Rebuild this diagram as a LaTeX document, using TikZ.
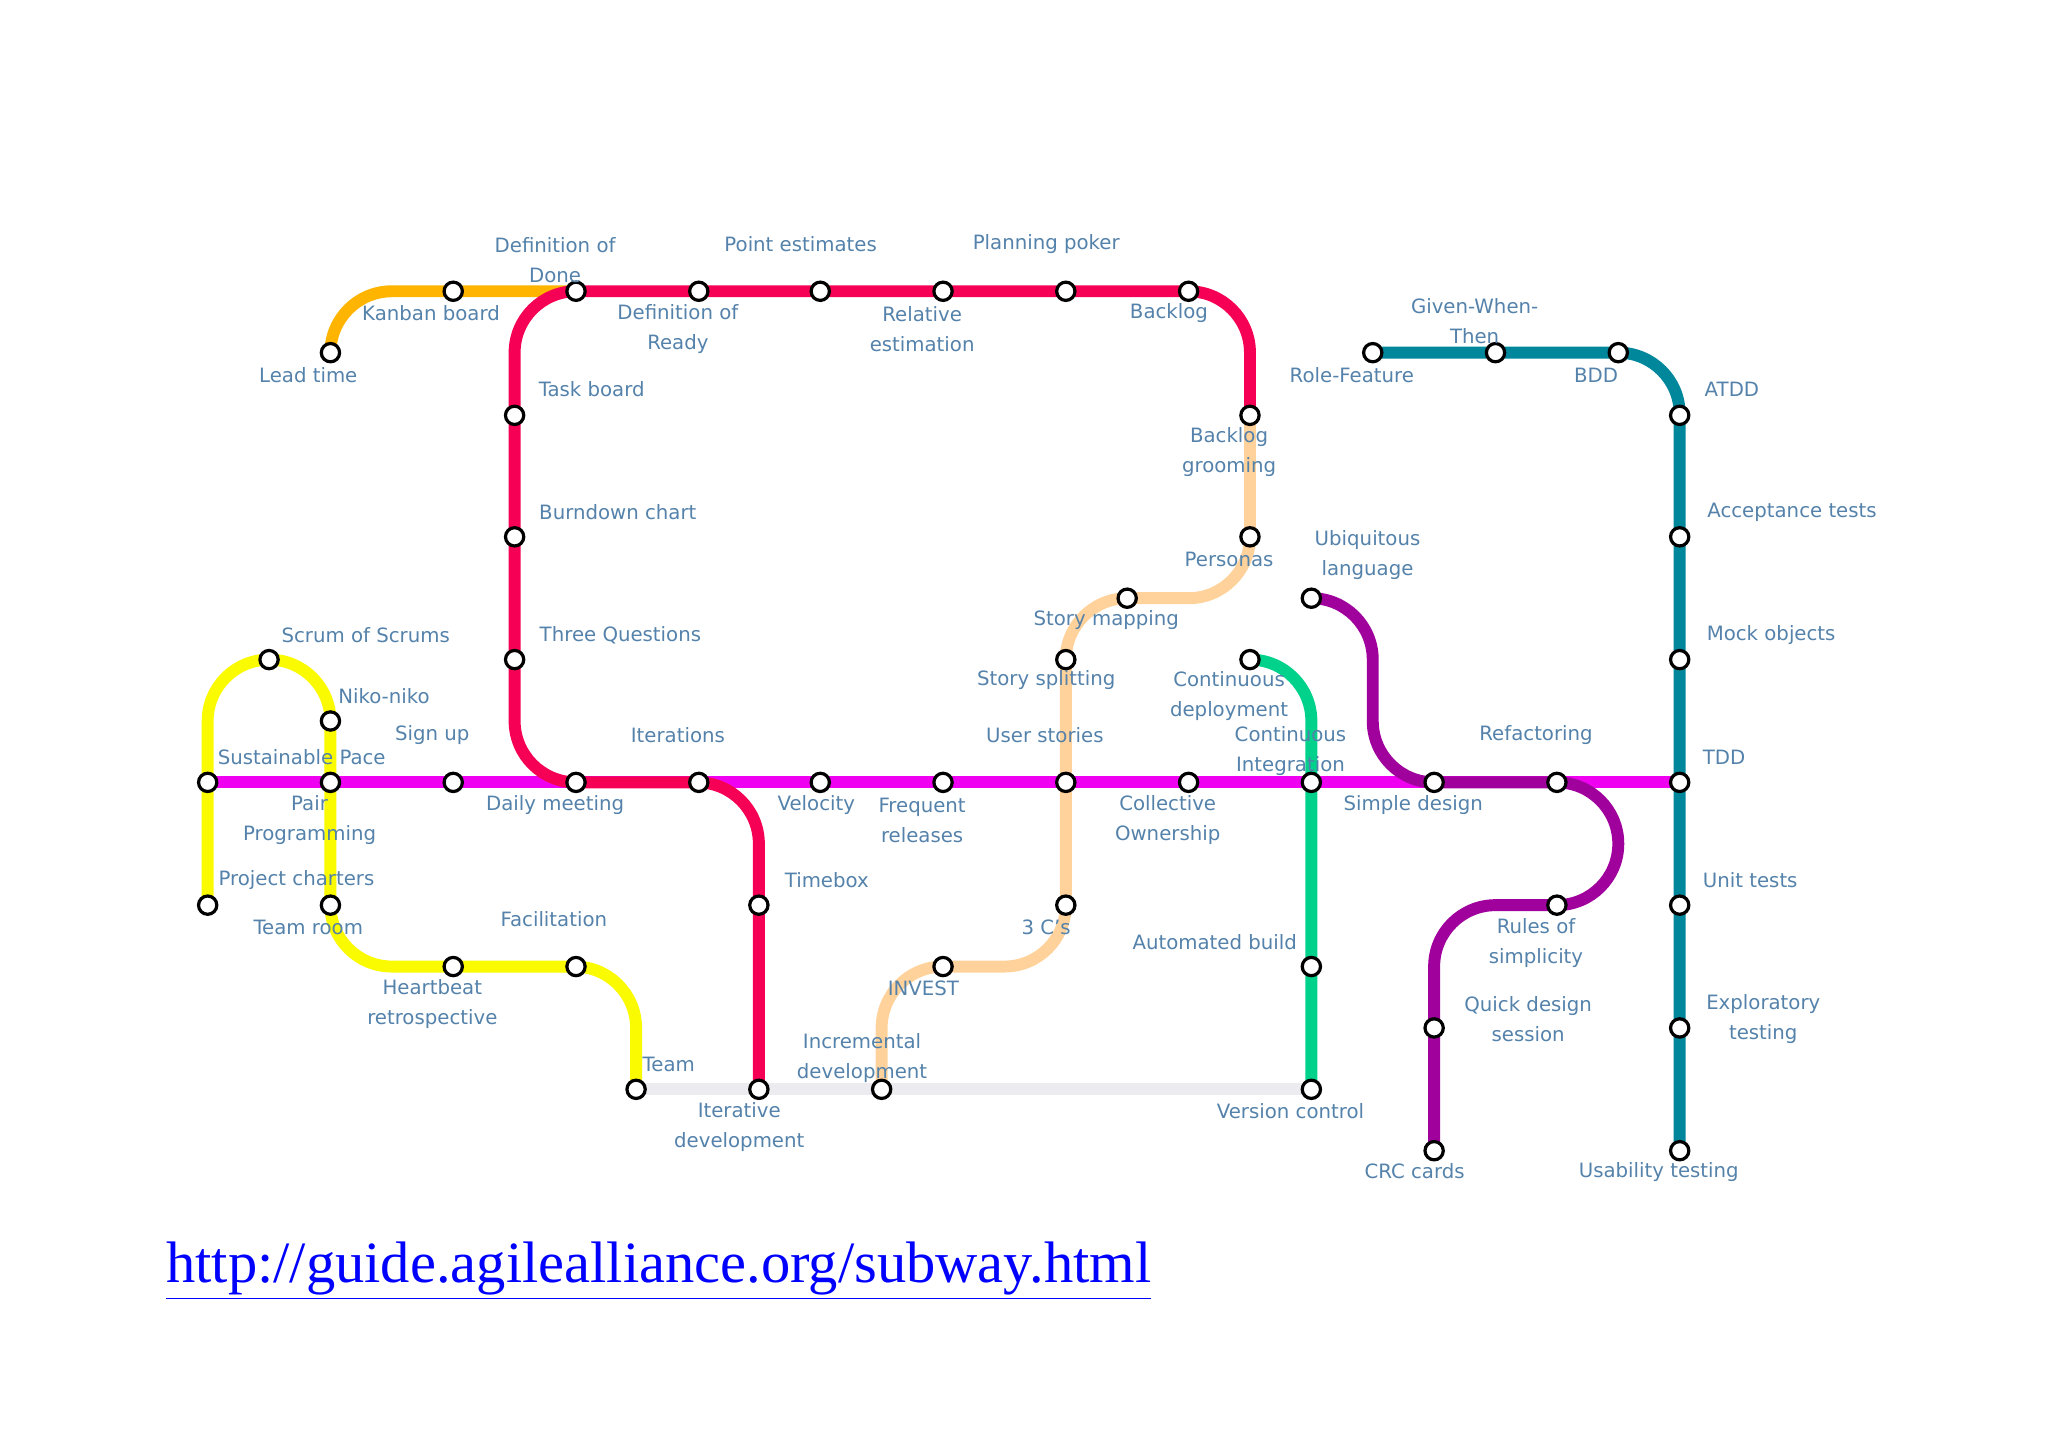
\documentclass[tikz,border=0pt]{standalone}
\usepackage{fontspec}
\setmainfont{DejaVu Sans}
\newfontfamily\urlfont{Liberation Serif}
\begin{document}
\begin{tikzpicture}[x=0.02cm,y=-0.02cm,
 route/.style={line width=5.2pt,rounded corners=0.94cm},
 st/.style={circle,draw=black,fill=white,line width=1.4pt,minimum size=0.28cm,inner sep=0pt},
 lb/.style={text=lbl,font=\fontsize{8.6}{13}\selectfont,align=center,inner sep=0pt}]
\definecolor{lbl}{RGB}{84,130,170}
\definecolor{cor}{RGB}{255,180,0}
\definecolor{cred}{RGB}{245,0,85}
\definecolor{cmag}{RGB}{240,0,240}
\definecolor{cyel}{RGB}{250,250,0}
\definecolor{cpea}{RGB}{255,210,155}
\definecolor{cgrn}{RGB}{0,210,140}
\definecolor{cpur}{RGB}{160,0,155}
\definecolor{ctea}{RGB}{0,135,155}
\definecolor{cgry}{RGB}{236,236,240}
\useasboundingbox (0,0) rectangle (1568,1109);
% station coordinates
\foreach \n/\x/\y in {lead/253/270,kanban/347/223,dod/441/223,dor/535/223,pe/628/223,rel/722/223,pp/816/223,backlog/910/223,
 task/394/318,burn/394/411,three/394/505,bgroom/957/318,pers/957/411,smap/863/458,ssplit/816/505,
 sp/159/599,pair/253/599,sign/347/599,daily/441/599,iter/535/599,vel/628/599,freq/722/599,us/816/599,coll/910/599,ci/1004/599,simple/1098/599,refac/1192/599,tdd/1286/599,
 sos/206/505,niko/253/552,charters/159/693,troom/253/693,heart/347/740,facil/441/740,team/487/834,
 timebox/581/693,itdev/581/834,three3c/816/693,invest/722/740,incdev/675/834,
 cdep/957/505,abuild/1004/740,vc/1004/834,
 ubiq/1004/458,rules/1192/693,quick/1098/787,crc/1098/881,
 role/1051/270,gwt/1145/270,bdd/1239/270,atdd/1286/318,acc/1286/411,mock/1286/505,unit/1286/693,expl/1286/787,usab/1286/881}
 {\coordinate (\n) at (\x,\y);}
% routes
\draw[route,cgry] (team) -- (vc);
\draw[route,cmag] (sp) -- (tdd);
\draw[route,cor] (lead) -- (253,223) -- (dod);
\draw[route,cred] (itdev) -- (581,599) -- (394,599) -- (394,223) -- (957,223) -- (bgroom);
\draw[route,cyel] (charters) -- (159,505) -- (253,505) -- (253,740) -- (487,740) -- (team);
\draw[route,cpea] (bgroom) -- (957,458) -- (816,458) -- (816,740) -- (675,740) -- (incdev);
\draw[route,cgrn] (cdep) -- (1004,505) -- (vc);
\draw[route,cpur] (ubiq) -- (1051,458) -- (1051,599) -- (1239,599) -- (1239,693) -- (1098,693) -- (crc);
\draw[route,ctea] (role) -- (1286,270) -- (usab);
% stations
\foreach \n in {lead,kanban,dod,dor,pe,rel,pp,backlog,task,burn,three,bgroom,pers,smap,ssplit,sp,pair,sign,daily,iter,vel,freq,us,coll,ci,simple,refac,tdd,sos,niko,charters,troom,heart,facil,team,timebox,itdev,three3c,invest,incdev,cdep,abuild,vc,ubiq,rules,quick,crc,role,gwt,bdd,atdd,acc,mock,unit,expl,usab}
 \node[st] (s-\n) at (\n) {};
% labels
\node[lb] (l1) at (425,199) {Definition of\\Done};
\node[lb] (l2) at (613,187) {Point estimates};
\node[lb] (l3) at (801,187) {Planning poker};
\node[lb] (l4) at (330,240) {Kanban board};
\node[lb] (l5) at (519,252) {Definition of\\Ready};
\node[lb] (l6) at (706,252) {Relative\\estimation};
\node[lb] (l7) at (895,240) {Backlog};
\node[lb] (l8) at (236,287) {Lead time};
\node[lb] (l9) at (453,298) {Task board};
\node[lb] (l10) at (473,392) {Burndown chart};
\node[lb] (l11) at (475,486) {Three Questions};
\node[lb] (l12) at (941,346) {Backlog\\grooming};
\node[lb] (l13) at (941,428) {Personas};
\node[lb] (l14) at (1047,425) {Ubiquitous\\language};
\node[lb] (l15) at (847,475) {Story mapping};
\node[lb] (l16) at (280,486) {Scrum of Scrums};
\node[lb] (l17) at (294,533) {Niko-niko};
\node[lb] (l18) at (801,521) {Story splitting};
\node[lb] (l19) at (941,533) {Continuous\\deployment};
\node[lb] (l20) at (331,563) {Sign up};
\node[lb] (l21) at (519,563) {Iterations};
\node[lb] (l22) at (800,563) {User stories};
\node[lb] (l23) at (988,575) {Continuous\\Integration};
\node[lb] (l24) at (1176,563) {Refactoring};
\node[lb] (l25) at (1320,580) {TDD};
\node[lb] (l26) at (231,580) {Sustainable Pace};
\node[lb] (l27) at (237,628) {Pair\\Programming};
\node[lb] (l28) at (425,616) {Daily meeting};
\node[lb] (l29) at (625,616) {Velocity};
\node[lb] (l30) at (706,628) {Frequent\\releases};
\node[lb] (l31) at (894,628) {Collective\\Ownership};
\node[lb] (l32) at (1082,616) {Simple design};
\node[lb] (l33) at (227,674) {Project charters};
\node[lb] (l34) at (633,674) {Timebox};
\node[lb] (l35) at (1340,674) {Unit tests};
\node[lb] (l36) at (236,710) {Team room};
\node[lb] (l37) at (424,704) {Facilitation};
\node[lb] (l38) at (801,710) {3 C's};
\node[lb] (l39) at (930,721) {Automated build};
\node[lb] (l40) at (1176,722) {Rules of\\simplicity};
\node[lb] (l41) at (331,769) {Heartbeat\\retrospective};
\node[lb] (l42) at (707,757) {INVEST};
\node[lb] (l43) at (1170,780) {Quick design\\session};
\node[lb] (l44) at (1350,780) {Exploratory\\testing};
\node[lb] (l45) at (512,815) {Team};
\node[lb] (l46) at (660,810) {Incremental\\development};
\node[lb] (l47) at (566,863) {Iterative\\development};
\node[lb] (l48) at (988,851) {Version control};
\node[lb] (l49) at (1083,897) {CRC cards};
\node[lb] (l50) at (1270,897) {Usability testing};
\node[lb] (l51) at (1035,287) {Role-Feature};
\node[lb] (l52) at (1129,246) {Given-When-\\Then};
\node[lb] (l53) at (1222,287) {BDD};
\node[lb] (l54) at (1326,298) {ATDD};
\node[lb] (l55) at (1372,392) {Acceptance tests};
\node[lb] (l56) at (1356,486) {Mock objects};
\node[anchor=west,inner sep=0pt,text=blue,font=\urlfont\fontsize{25.5}{30}\selectfont] (url) at (127,973) {\underline{http://guide.agilealliance.org/subway.html}};
\end{tikzpicture}
\end{document}
